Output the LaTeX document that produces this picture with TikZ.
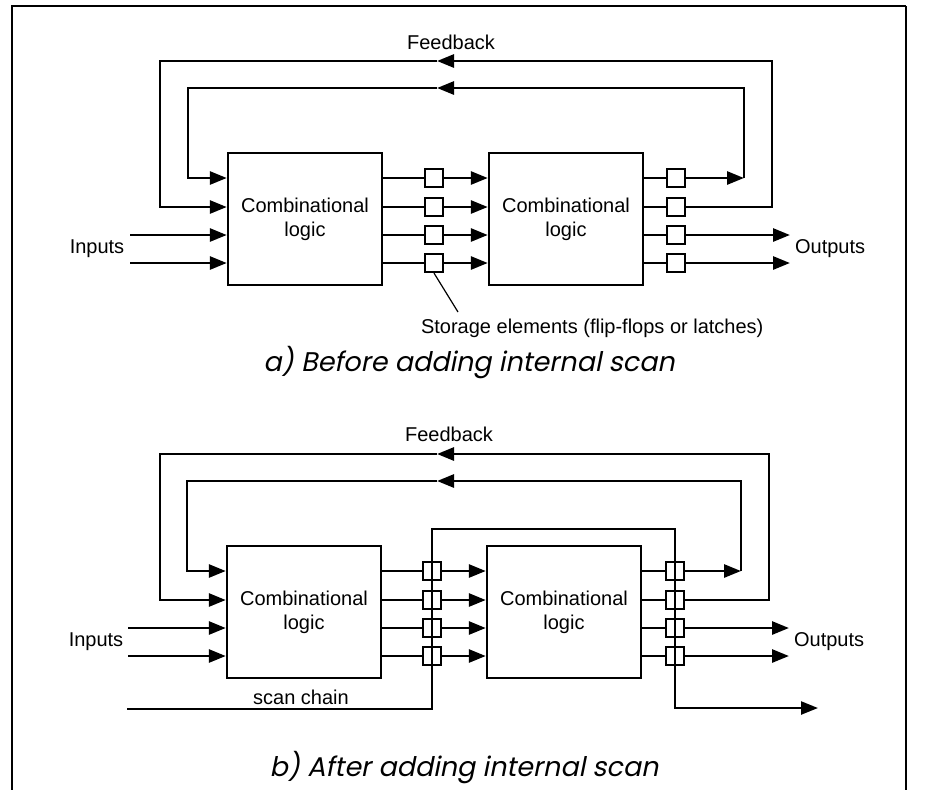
\documentclass[tikz,border=0pt]{standalone}
\usepackage{fontspec}
\setmainfont{Liberation Sans}
\newfontfamily\capfont{Poppins}[FakeSlant=0.2]
\usetikzlibrary{arrows.meta}

\begin{document}
\begin{tikzpicture}[x=0.5pt, y=-0.5pt,
  logicbox/.style={draw, line width=1.2pt, minimum width=77pt, minimum height=66pt, align=center, font=\fontsize{10}{12}\selectfont},
  ffbox/.style={draw, line width=1.1pt, fill=white, minimum size=9pt, inner sep=0pt},
  wire/.style={line width=1.4pt},
  tip/.style={-{Triangle[length=8.5pt,width=6.5pt]}},
  lbl/.style={font=\fontsize{10}{12}\selectfont},
  caption/.style={font=\capfont\fontsize{13.5}{16}\selectfont}]
\useasboundingbox (0,0) rectangle (933,800);

% Frame round the figure
\draw[line width=1.4pt] (906,6) -- (12,6) -- (12,790);
\draw[line width=1.4pt] (906,6) -- (906,790);

% ---------- a) Before adding internal scan ----------
\node[logicbox] (cla1) at (305,219) {Combinational\\logic};
\node[logicbox] (cla2) at (566,219) {Combinational\\logic};

% Storage elements
\node[ffbox] (ffa1) at (434,178) {};
\node[ffbox] (ffa2) at (434,207) {};
\node[ffbox] (ffa3) at (434,235) {};
\node[ffbox] (ffa4) at (434,263) {};
\node[ffbox] (ffa5) at (676,178) {};
\node[ffbox] (ffa6) at (676,207) {};
\node[ffbox] (ffa7) at (676,235) {};
\node[ffbox] (ffa8) at (676,263) {};

% Inputs
\coordinate (ina3) at (130,235);
\coordinate (ina4) at (130,263);
\draw[wire,tip] (ina3) -- (ina3 -| cla1.west);
\draw[wire,tip] (ina4) -- (ina4 -| cla1.west);
\node[lbl] (inlbla) at (97,249) {Inputs};

% First logic to storage to second logic
\draw[wire] (ffa1 -| cla1.east) -- (ffa1.west);
\draw[wire,tip] (ffa1.east) -- (ffa1 -| cla2.west);
\draw[wire] (ffa2 -| cla1.east) -- (ffa2.west);
\draw[wire,tip] (ffa2.east) -- (ffa2 -| cla2.west);
\draw[wire] (ffa3 -| cla1.east) -- (ffa3.west);
\draw[wire,tip] (ffa3.east) -- (ffa3 -| cla2.west);
\draw[wire] (ffa4 -| cla1.east) -- (ffa4.west);
\draw[wire,tip] (ffa4.east) -- (ffa4 -| cla2.west);

% Second logic to storage
\draw[wire] (ffa5 -| cla2.east) -- (ffa5.west);
\draw[wire] (ffa6 -| cla2.east) -- (ffa6.west);
\draw[wire] (ffa7 -| cla2.east) -- (ffa7.west);
\draw[wire] (ffa8 -| cla2.east) -- (ffa8.west);

% Outputs
\coordinate (outa3) at (790,235);
\coordinate (outa4) at (790,263);
\draw[wire,tip] (ffa7.east) -- (outa3);
\draw[wire,tip] (ffa8.east) -- (outa4);
\node[lbl, anchor=west] (outlbla) at (788,249) {Outputs};

% Feedback loops
\coordinate (fbia) at (744,178);
\coordinate (fbmia) at (437,88);
\coordinate (fblia) at (188,178);
\coordinate (fbroa) at (772,61);
\coordinate (fbmoa) at (437,61);
\coordinate (fbloa) at (160,207);
\draw[wire,tip] (ffa5.east) -- (fbia);
\draw[wire,tip] (fbia) |- (fbmia);
\draw[wire,tip] (fbmia) -| (fblia) -- (fblia -| cla1.west);
\draw[wire,tip] (ffa6.east) -| (fbroa) -- (fbmoa);
\draw[wire,tip] (fbmoa) -| (fbloa) -- (fbloa -| cla1.west);
\node[lbl] (fblbla) at (451,42) {Feedback};

% Storage label
\node[lbl, anchor=north west] (stlbl) at (414,312) {Storage elements (flip-flops or latches)};
\draw[line width=0.6pt] (ffa4.south) -- ([xshift=22pt]stlbl.north west);

\node[caption] (capa) at (469,363) {a) Before adding internal scan};

% ---------- b) After adding internal scan ----------
\node[logicbox] (clb1) at (304,612) {Combinational\\logic};
\node[logicbox] (clb2) at (564,612) {Combinational\\logic};

% Storage elements
\node[ffbox] (ffb1) at (432,571) {};
\node[ffbox] (ffb2) at (432,600) {};
\node[ffbox] (ffb3) at (432,628) {};
\node[ffbox] (ffb4) at (432,656) {};
\node[ffbox] (ffb5) at (675,571) {};
\node[ffbox] (ffb6) at (675,600) {};
\node[ffbox] (ffb7) at (675,628) {};
\node[ffbox] (ffb8) at (675,656) {};

% Inputs
\coordinate (inb3) at (128,628);
\coordinate (inb4) at (128,656);
\draw[wire,tip] (inb3) -- (inb3 -| clb1.west);
\draw[wire,tip] (inb4) -- (inb4 -| clb1.west);
\node[lbl] (inlblb) at (96,642) {Inputs};

% First logic to storage to second logic
\draw[wire] (ffb1 -| clb1.east) -- (ffb1.west);
\draw[wire,tip] (ffb1.east) -- (ffb1 -| clb2.west);
\draw[wire] (ffb2 -| clb1.east) -- (ffb2.west);
\draw[wire,tip] (ffb2.east) -- (ffb2 -| clb2.west);
\draw[wire] (ffb3 -| clb1.east) -- (ffb3.west);
\draw[wire,tip] (ffb3.east) -- (ffb3 -| clb2.west);
\draw[wire] (ffb4 -| clb1.east) -- (ffb4.west);
\draw[wire,tip] (ffb4.east) -- (ffb4 -| clb2.west);

% Second logic to storage
\draw[wire] (ffb5 -| clb2.east) -- (ffb5.west);
\draw[wire] (ffb6 -| clb2.east) -- (ffb6.west);
\draw[wire] (ffb7 -| clb2.east) -- (ffb7.west);
\draw[wire] (ffb8 -| clb2.east) -- (ffb8.west);

% Outputs
\coordinate (outb3) at (789,628);
\coordinate (outb4) at (789,656);
\draw[wire,tip] (ffb7.east) -- (outb3);
\draw[wire,tip] (ffb8.east) -- (outb4);
\node[lbl, anchor=west] (outlblb) at (787,642) {Outputs};

% Feedback loops
\coordinate (fbib) at (741,571);
\coordinate (fbmib) at (437,481);
\coordinate (fblib) at (187,571);
\coordinate (fbrob) at (769,454);
\coordinate (fbmob) at (437,454);
\coordinate (fblob) at (160,600);
\draw[wire,tip] (ffb5.east) -- (fbib);
\draw[wire,tip] (fbib) |- (fbmib);
\draw[wire,tip] (fbmib) -| (fblib) -- (fblib -| clb1.west);
\draw[wire,tip] (ffb6.east) -| (fbrob) -- (fbmob);
\draw[wire,tip] (fbmob) -| (fblob) -- (fblob -| clb1.west);
\node[lbl] (fblblb) at (449,434) {Feedback};

% Scan chain through the storage elements
\coordinate (scin) at (127,709);
\coordinate (scta) at (432,529);
\coordinate (sctb) at (675,529);
\coordinate (scout) at (818,708);
\draw[line width=1.2pt,tip] (scin) -| (scta) -- (sctb) |- (scout);
\node[lbl] (sclbl) at (301,697) {scan chain};

\node[caption] (capb) at (464,768) {b) After adding internal scan};
\end{tikzpicture}
\end{document}
